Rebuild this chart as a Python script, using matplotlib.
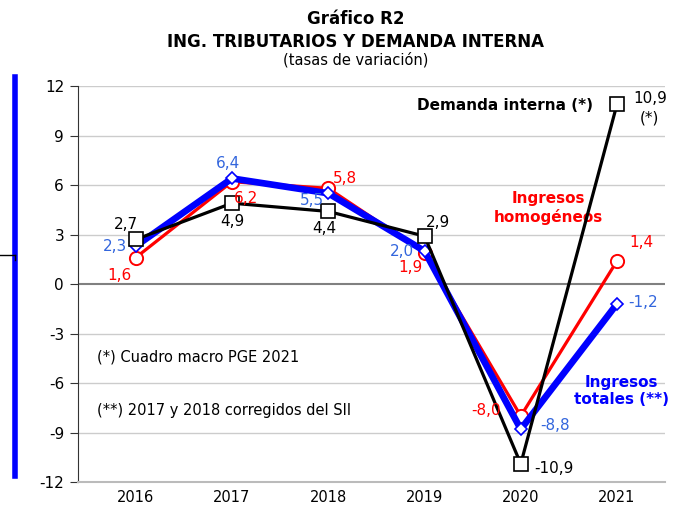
import matplotlib
matplotlib.use("Agg")
import matplotlib.pyplot as plt
from matplotlib.lines import Line2D

years = ["2016", "2017", "2018", "2019", "2020", "2021"]
demanda = [2.7, 4.9, 4.4, 2.9, -10.9, 10.9]
ing_homog = [1.6, 6.2, 5.8, 1.9, -8.0, 1.4]
ing_tot = [2.3, 6.4, 5.5, 2.0, -8.8, -1.2]
yticks = [12, 9, 6, 3, 0, -3, -6, -9, -12]

plt.rcParams['font.family'] = ['DejaVu Sans']
fig = plt.figure(figsize=(6.9, 5.09), dpi=100)
ax = fig.add_axes([0.113, 0.053, 0.851, 0.778])
x = list(range(len(years)))

ax.plot(x, ing_homog, color='#ff0000', lw=2.3, marker='o', ms=9.5,
        mfc='white', mec='#ff0000', mew=1.4, zorder=3)
ax.plot(x, ing_tot, color='#0000ff', lw=4.8, marker='D', ms=6.5,
        mfc='white', mec='#0000ff', mew=1.2, zorder=4)
ax.plot(x, demanda, color='black', lw=2.3, marker='s', ms=10,
        mfc='white', mec='black', mew=1.2, zorder=5)

ax.set_xlim(-0.6, 5.5)
ax.set_ylim(-12, 12)
ax.set_yticks(yticks)
ax.set_yticklabels([str(t) for t in yticks], fontsize=11)
ax.set_xticks(x)
ax.set_xticklabels(years, fontsize=10.5)
ax.tick_params(axis='x', length=0, pad=6)
ax.tick_params(axis='y', length=6, color='#333333', direction='out', pad=4)
for t in yticks:
    if t == -12:
        continue
    ax.axhline(t, color='#808080' if t == 0 else '#cccccc',
               lw=1.5 if t == 0 else 1.0, zorder=1)
for s in ['top', 'right']:
    ax.spines[s].set_visible(False)
ax.spines['bottom'].set_color('#bbbbbb')
ax.spines['bottom'].set_linewidth(1.5)
ax.spines['left'].set_color('#333333')

fs = 11
blk, red, blu = 'black', '#ff0000', '#3366dd'
def lab(i, v, txt, dx, dy, c, ha='center'):
    ax.annotate(txt, (i, v), xytext=(dx, dy), textcoords='offset points',
                ha=ha, va='center', color=c, fontsize=fs, zorder=6)

# demanda labels
lab(0, demanda[0], "2,7", -7, 11, blk)
lab(1, demanda[1], "4,9", 0, -13, blk)
lab(2, demanda[2], "4,4", -3, -12, blk)
lab(3, demanda[3], "2,9", 10, 10, blk)
lab(4, demanda[4], "-10,9", 10, -3, blk, ha='left')
lab(5, demanda[5], "10,9", 12, 4, blk, ha='left')
lab(5, demanda[5], "(*)", 16, -10, blk, ha='left')
# red labels
lab(0, ing_homog[0], "1,6", -12, -13, red)
lab(1, ing_homog[1], "6,2", 10, -12, red)
lab(2, ing_homog[2], "5,8", 12, 7, red)
lab(3, ing_homog[3], "1,9", -10, -11, red)
lab(4, ing_homog[4], "-8,0", -14, 4, red, ha='right')
lab(5, ing_homog[5], "1,4", 9, 13, red, ha='left')
# blue labels
lab(0, ing_tot[0], "2,3", -15, 0, blu)
lab(1, ing_tot[1], "6,4", -3, 11, blu)
lab(2, ing_tot[2], "5,5", -12, -5, blu)
lab(3, ing_tot[3], "2,0", -16, 0, blu)
lab(4, ing_tot[4], "-8,8", 14, 3, blu, ha='left')
lab(5, ing_tot[5], "-1,2", 8, 1, blu, ha='left')

ax.text(4.75, 10.8, "Demanda interna (*)", ha='right', va='center',
        fontsize=11, fontweight='bold', color='black')
ax.text(4.29, 4.6, "Ingresos\nhomogéneos", ha='center', va='center',
        fontsize=11, fontweight='bold', color='#ff0000', linespacing=1.2)
ax.text(5.05, -6.5, "Ingresos\ntotales (**)", ha='center', va='center',
        fontsize=11, fontweight='bold', color='#0000ff', linespacing=1.2)
ax.text(-0.4, -4.45, "(*) Cuadro macro PGE 2021", ha='left', va='center',
        fontsize=10.5, color='black')
ax.text(-0.4, -7.65, "(**) 2017 y 2018 corregidos del SII", ha='left',
        va='center', fontsize=10.5, color='black')

fig.text(0.515, 0.963, "Gráfico R2", ha='center', va='center', fontsize=12,
         fontweight='bold')
fig.text(0.515, 0.917, "ING. TRIBUTARIOS Y DEMANDA INTERNA", ha='center',
         va='center', fontsize=12, fontweight='bold')
fig.text(0.515, 0.882, "(tasas de variación)", ha='center', va='center',
         fontsize=10.5)

# decorative left elements
fig.add_artist(Line2D([15/690, 15/690], [1-77/509, 1-476/509],
                      color='#0000ff', lw=4))
fig.add_artist(Line2D([0, 15/690], [1-255/509, 1-255/509], color='black', lw=1))
fig.add_artist(Line2D([15/690, 15/690], [1-255/509, 1-260/509], color='black', lw=1))

fig.savefig("out.png", dpi=100)
